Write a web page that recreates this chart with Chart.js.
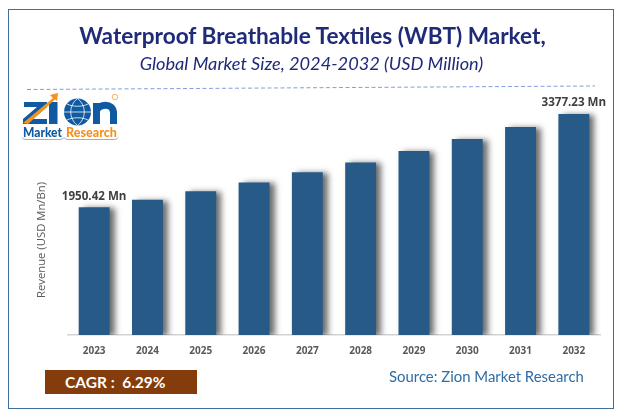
<!DOCTYPE html>
<html>
<head>
<meta charset="utf-8">
<script src="https://cdn.jsdelivr.net/npm/chart.js@4"></script>
<style>
html, body { margin: 0; padding: 0; background: #fff; }
#page { position: relative; width: 623px; height: 417px; overflow: hidden; font-family: Lato, sans-serif; }
#frame { position: absolute; left: 8px; top: 9px; width: 604px; height: 398px; border: 1.5px solid #3f6f9f; }
#chartBox { position: absolute; left: 0; top: 0; width: 623px; height: 417px; }
.abs { position: absolute; white-space: nowrap; }
#title { left: 1px; width: 623px; top: 22px; text-align: center; font-size: 22.6px; font-weight: 700; color: #1f2a78; line-height: 28px; }
#subtitle { left: 0; width: 623px; top: 52px; text-align: center; font-size: 18.2px; font-style: italic; color: #1f2a78; line-height: 22px; }
#cagr { left: 45px; top: 370px; width: 152px; height: 24px; background: #843c0c; color: #fff; font-size: 15.5px; font-weight: 700; line-height: 24px; text-indent: 20px; white-space: pre; }
#source { left: 389px; top: 365px; font-size: 14.9px; color: #2e6da4; line-height: 22px; }
#yTitle { left: 39.5px; top: 240px; transform: translate(-50%, -50%) rotate(-90deg); font-family: 'Open Sans', sans-serif; font-size: 11.3px; color: #595959; }
#logo { position: absolute; left: 20px; top: 90px; }
</style>
</head>
<body>
<div id="page">
  <div id="chartBox"><canvas id="marketChart"></canvas></div>
  <div id="frame"></div>
  <div class="abs" id="title">Waterproof Breathable Textiles (WBT) Market,</div>
  <div class="abs" id="subtitle">Global Market Size, 2024-2032 (USD Million)</div>
  <svg class="abs" style="left:0;top:0" width="623" height="100">
    <line x1="27" y1="89.5" x2="595" y2="86" stroke="#7f9fdc" stroke-width="1" stroke-dasharray="4 2.5"/>
  </svg>
  <svg id="logo" width="102" height="52" viewBox="0 0 102 52">
    <polygon points="4,12 27,12 27,17 13,29 27,29 27,34 3,34 3,29 17,17 4,17" fill="#0f5aa0"/>
    <rect x="29" y="12" width="8.5" height="22" fill="#0f5aa0"/>
    <polygon points="3,33 33,8 30,5 38,3 37,11 35,9.5 8,34" fill="#f5921e"/>
    <circle cx="57.5" cy="22" r="13.5" fill="#0f5aa0"/>
    <path d="M44 22h27M57.5 8.5c-9 7-9 20 0 27M57.5 8.5c9 7 9 20 0 27M47 14c6 3 15 3 21 0M47 30c6-3 15-3 21 0" fill="none" stroke="#fff" stroke-width="0.8"/>
    <path d="M76.5 34V13M76.5 21C78 14 93.5 12 93.5 23V34" fill="none" stroke="#0f5aa0" stroke-width="7"/>
    <circle cx="95" cy="7" r="2.8" fill="none" stroke="#f5921e" stroke-width="0.7"/>
    <text x="3" y="47" font-family="Lato, sans-serif" font-weight="900" font-size="12.5" fill="#0f5aa0" textLength="39" lengthAdjust="spacingAndGlyphs">Market</text>
    <text x="46" y="47" font-family="Lato, sans-serif" font-weight="900" font-size="12.5" fill="#f5921e" textLength="51" lengthAdjust="spacingAndGlyphs">Research</text>
    <path d="M2 47.5Q3 49.5 6 49.5H40Q43 49.5 44 47.5Q45 49.5 48 49.5H95Q97 49.5 98 47.5" fill="none" stroke="#5d93c9" stroke-width="0.7"/>
  </svg>
  <div class="abs" id="cagr">CAGR :  6.29%</div>
  <div class="abs" id="source">Source: Zion Market Research</div>
  <div class="abs" id="yTitle">Revenue (USD Mn/Bn)</div>
</div>
<script>
const years = ["2023", "2024", "2025", "2026", "2027", "2028", "2029", "2030", "2031", "2032"];
const revenue = [1950.42, 2065, 2195, 2332, 2485, 2637, 2812, 2995, 3180, 3377.23];
const valueLabels = { 0: "1950.42 Mn", 9: "3377.23 Mn" };

// soft grey shadow to the right of the bars
const barShadow = {
    id: "barShadow",
    beforeDatasetDraw(chart) {
        let ctx = chart.ctx;
        ctx.save();
        ctx.shadowColor = "rgba(60, 60, 60, 0.75)";
        ctx.shadowBlur = 6;
        ctx.shadowOffsetX = 5;
        ctx.shadowOffsetY = 1;
    },
    afterDatasetDraw(chart) {
        chart.ctx.restore();
    }
};

// only the first and the last bar carry a label
const endLabels = {
    id: "endLabels",
    afterDatasetsDraw(chart) {
        let ctx = chart.ctx;
        let bars = chart.getDatasetMeta(0).data;
        ctx.save();
        ctx.font = "700 11.6px 'Open Sans'";
        ctx.fillStyle = "#404040";
        ctx.textAlign = "center";
        ctx.textBaseline = "bottom";
        for (let i in valueLabels) {
            ctx.fillText(valueLabels[i], bars[i].x, bars[i].y - 5);
        }
        ctx.restore();
    }
};

new Chart(document.getElementById("marketChart").getContext("2d"), {
    type: "bar",
    data: {
        labels: years,
        datasets: [{
            data: revenue,
            backgroundColor: "#275a87",
            barPercentage: 0.58,
            categoryPercentage: 1
        }]
    },
    options: {
        responsive: true,
        maintainAspectRatio: false,
        animation: false,
        layout: { padding: { left: 28.5, right: 22.5, top: 99.4, bottom: 50 } },
        plugins: { legend: { display: false }, tooltip: { enabled: false } },
        scales: {
            x: {
                grid: { display: false, drawTicks: false },
                border: { color: "#d4d4d4", width: 1.5 },
                ticks: { color: "#595959", font: { family: "'Open Sans'", size: 10, weight: "700" }, padding: 10 }
            },
            y: {
                min: 0,
                max: 3600,
                afterFit(scale) { scale.width = 39; },
                grid: { display: false },
                border: { display: false },
                ticks: { display: false }
            }
        }
    },
    plugins: [barShadow, endLabels]
});
</script>
</body>
</html>
